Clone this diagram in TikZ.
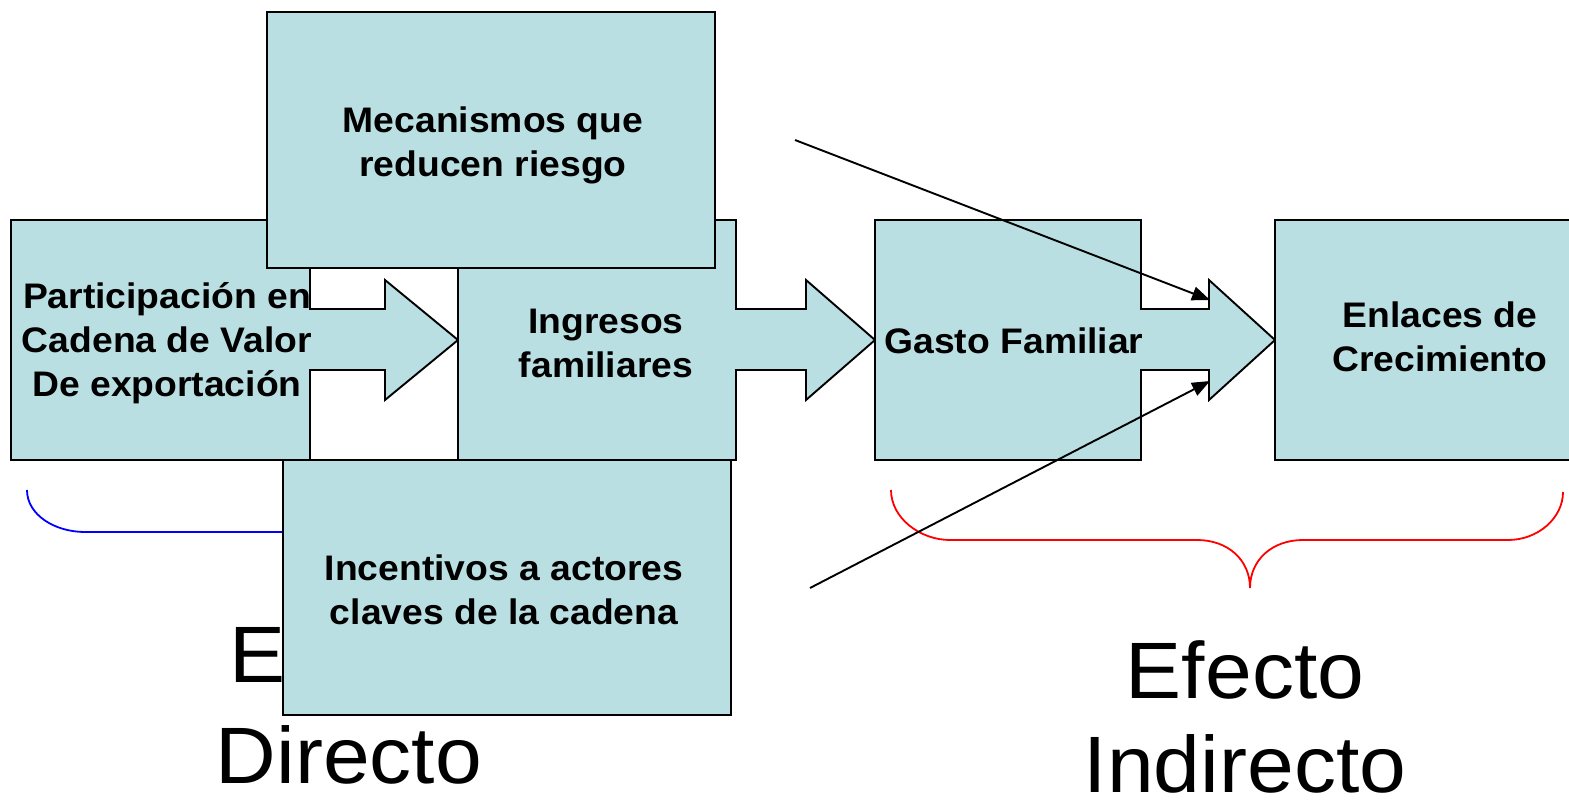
\documentclass[tikz,border=0pt]{standalone}
\usepackage{fontspec}
\setmainfont[FakeStretch=1.05]{Liberation Sans}
\usetikzlibrary{arrows.meta}
\definecolor{boxfill}{RGB}{185,223,227}
\begin{document}
\begin{tikzpicture}[x=1pt,y=-1pt,
  shapebox/.style={draw=black,line width=1.9pt,fill=boxfill,line join=miter},
  boxtext/.style={font=\bfseries\fontsize{35.5}{44}\selectfont,align=center,inner sep=0pt},
  bigtext/.style={font=\fontsize{80}{96}\selectfont,anchor=base,inner sep=0pt},
  pointer/.style={draw=black,line width=1.9pt,-{Triangle[length=18pt,width=14pt]}},
  bracepath/.style={line width=1.8pt}]
\clip (0,0) rectangle (1569,803);
\fill[white] (0,0) rectangle (1569,803);

% braces
\draw[bracepath,blue] (27,490) .. controls (27,515) and (55,532) .. (85,532) -- (320,532)
  .. controls (350,532) and (373,552) .. (373,580) .. controls (373,552) and (396,532) .. (426,532)
  -- (662,532) .. controls (692,532) and (720,515) .. (720,490);
\draw[bracepath,red] (891,490) .. controls (891,518) and (920,540) .. (950,540) -- (1197,540)
  .. controls (1228,540) and (1250,560) .. (1250,588) .. controls (1250,560) and (1272,540) .. (1303,540)
  -- (1508,540) .. controls (1538,540) and (1563,518) .. (1563,492);

% big labels
\node[bigtext] (ed1) at (349,682) {Efecto};
\node[bigtext] (ed2) at (349,783) {Directo};
\node[bigtext] (ei1) at (1245,698) {Efecto};
\node[bigtext] (ei2) at (1245,792) {Indirecto};

% shapes
\draw[shapebox] (11,220) -- (310,220) -- (310,309) -- (385,309) -- (385,280) -- (458,340)
  -- (385,400) -- (385,370) -- (310,370) -- (310,460) -- (11,460) -- cycle;
\draw[shapebox] (458,220) -- (736,220) -- (736,309) -- (806,309) -- (806,280) -- (875,340)
  -- (806,400) -- (806,370) -- (736,370) -- (736,460) -- (458,460) -- cycle;
\draw[shapebox] (267,12) rectangle (715,268);
\draw[shapebox] (875,220) -- (1141,220) -- (1141,309) -- (1209,309) -- (1209,280) -- (1275,340)
  -- (1209,400) -- (1209,370) -- (1141,370) -- (1141,460) -- (875,460) -- cycle;
\draw[shapebox] (1275,220) rectangle (1585,460);
\draw[shapebox] (283,460) rectangle (731,715);

% texts
\node[boxtext] (part) at (167,343) {Participación en\\Cadena de Valor\\De exportación};
\node[boxtext] (mec) at (493,145) {Mecanismos que\\reducen riesgo};
\node[boxtext] (ing) at (606,343) {Ingresos\\familiares};
\node[boxtext] (gas) at (1014,341) {Gasto Familiar};
\node[boxtext] (enl) at (1440,337) {Enlaces de~\\Crecimiento};
\node[boxtext] (inc) at (504,590) {Incentivos a actores\\claves de la cadena};

% pointers
\coordinate (p1s) at (795,140);
\coordinate (p1e) at (1210,300);
\coordinate (p2s) at (810,588);
\coordinate (p2e) at (1210,381);
\draw[pointer] (p1s) -- (p1e);
\draw[pointer] (p2s) -- (p2e);
\end{tikzpicture}
\end{document}
